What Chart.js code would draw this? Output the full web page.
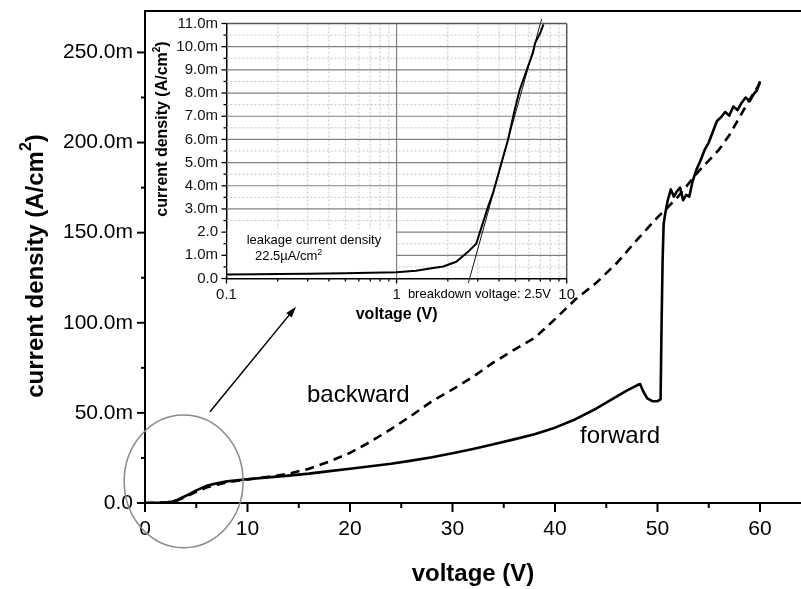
<!DOCTYPE html>
<html><head><meta charset="utf-8">
<script src="https://cdn.jsdelivr.net/npm/chart.js@4.4.0/dist/chart.umd.min.js"></script>
<style>
html,body{margin:0;padding:0;background:#fff;}
#wrap{position:relative;width:801px;height:589px;overflow:hidden;}
canvas{position:absolute;left:0;top:0;}
</style></head><body>
<div id="wrap"><canvas id="main" width="801" height="589"></canvas><canvas id="inset" width="801" height="589"></canvas></div>
<script>
// ---------- main chart data (voltage in V, current density in mA/cm²) ----------
const forwardVoltage = [0, 1, 2, 2.6, 3.2, 4, 5, 6, 7, 8, 9, 10, 12, 14, 16, 18, 20, 22, 24, 26, 28, 30, 32, 34, 36, 38, 40, 42, 44, 46, 47, 48, 48.3, 48.6, 49, 49.5, 50, 50.3, 50.4, 50.5, 50.6, 50.8, 51.0, 51.3, 51.6, 51.9, 52.2, 52.5, 52.8, 53.1, 53.4, 53.8, 54.2, 54.6, 55.0, 55.4, 55.8, 56.2, 56.6, 57.0, 57.4, 57.8, 58.2, 58.6, 59.0, 59.4, 59.7, 60.0];
const forwardCurrent = [0, 0.1, 0.3, 0.6, 1.8, 4.0, 7.0, 9.5, 11.0, 12.0, 12.6, 13.2, 14.2, 15.2, 16.3, 17.7, 19.0, 20.4, 21.8, 23.5, 25.4, 27.6, 30.0, 32.6, 35.3, 38.2, 41.8, 46.5, 52.3, 59.0, 62.3, 65.3, 66.0, 62.0, 58.0, 56.5, 56.5, 57.5, 100, 135, 155, 162, 168, 174, 170, 173, 175, 168, 171, 170, 178, 185, 190, 196, 200, 206, 212, 214, 217, 215, 220, 218, 222, 225, 223, 227, 229, 234];
const backwardVoltage = [0, 1, 2, 2.6, 3.2, 4, 5, 6, 7, 8, 9, 10, 12, 14, 16, 18, 20, 22, 24, 26, 28, 30, 32, 34, 36, 38, 40, 42, 44, 46, 48, 50, 51, 52, 53, 54, 55, 56, 57, 58, 59, 60];
const backwardCurrent = [0, 0.1, 0.3, 0.6, 1.5, 3.5, 6.2, 8.6, 10.2, 11.4, 12.3, 13.1, 14.5, 16.2, 19.0, 23.0, 27.8, 34.0, 41.0, 48.5, 56.5, 63.0, 70.0, 78.0, 85.0, 91.5, 102.0, 113.0, 122.0, 133.0, 146.0, 158.5, 164.0, 170, 177, 184, 190, 196, 204, 214, 224, 233];
const mainXTicks = [0, 10, 20, 30, 40, 50, 60];
const mainYTicks = [0, 50, 100, 150, 200, 250];

// ---------- inset data (log voltage axis) ----------
const insetVoltage = [0.1, 0.15, 0.2, 0.3, 0.5, 0.7, 1.0, 1.3, 1.64, 1.88, 2.24, 2.63, 2.94, 3.09, 3.45, 3.68, 4.12, 4.51, 4.94, 5.29, 5.92, 6.33, 6.52, 7.0, 7.3];
const insetCurrent = [0.17, 0.18, 0.19, 0.21, 0.23, 0.25, 0.27, 0.33, 0.45, 0.52, 0.72, 1.15, 1.5, 2.0, 3.1, 3.67, 4.95, 5.96, 7.26, 8.13, 9.14, 9.73, 10.16, 10.6, 10.96];
const tangentVoltage = [2.64, 7.13];
const tangentCurrent = [-0.2, 11.2];
const insetXLabels = [0.1, 1, 10];
const insetYTicks = [0, 1, 2, 3, 4, 5, 6, 7, 8, 9, 10, 11];

const FONT = '"Liberation Sans", Arial, Helvetica, sans-serif';
Chart.defaults.font.family = FONT;
Chart.defaults.color = '#000';

function pts(xs, ys) { return xs.map((v, i) => ({x: v, y: ys[i]})); }

function drawRich(ctx, cx, cy, size, bold, segs, rotate) {
  ctx.save();
  ctx.translate(cx, cy);
  if (rotate) ctx.rotate(-Math.PI / 2);
  const base = (bold ? 'bold ' : '') + size + 'px ' + FONT;
  const sup = (bold ? 'bold ' : '') + Math.round(size * 0.65) + 'px ' + FONT;
  let total = 0;
  segs.forEach(s => { ctx.font = s.sup ? sup : base; s.w = ctx.measureText(s.t).width; total += s.w; });
  let xx = -total / 2;
  ctx.textBaseline = 'middle'; ctx.textAlign = 'left'; ctx.fillStyle = '#000';
  segs.forEach(s => { ctx.font = s.sup ? sup : base; ctx.fillText(s.t, xx, s.sup ? -size * 0.38 : 0); xx += s.w; });
  ctx.restore();
}
function drawRichLeft(ctx, x, y, size, segs) {
  ctx.save();
  const base = size + 'px ' + FONT, sup = Math.round(size * 0.7) + 'px ' + FONT;
  ctx.textBaseline = 'alphabetic'; ctx.textAlign = 'left'; ctx.fillStyle = '#000';
  let xx = x;
  segs.forEach(s => { ctx.font = s.sup ? sup : base; ctx.fillText(s.t, xx, s.sup ? y - size * 0.45 : y); xx += ctx.measureText(s.t).width; });
  ctx.restore();
}
function seg(ctx, x1, y1, x2, y2) { ctx.beginPath(); ctx.moveTo(x1, y1); ctx.lineTo(x2, y2); ctx.stroke(); }

// ---------- main chart decorations ----------
const mainDecor = {
  id: 'mainDecor',
  afterDraw(chart) {
    const {ctx, chartArea: a, scales: {x, y}} = chart;
    ctx.save();
    ctx.strokeStyle = '#000'; ctx.lineWidth = 2;
    seg(ctx, a.left - 1, a.top, a.right, a.top);
    // x ticks (major + minor)
    mainXTicks.forEach((v, i) => {
      const px = x.getPixelForValue(v);
      seg(ctx, px, a.bottom, px, a.bottom + 9);
      if (i < mainXTicks.length - 1) {
        const mv = (v + mainXTicks[i + 1]) / 2, mp = x.getPixelForValue(mv);
        seg(ctx, mp, a.bottom, mp, a.bottom + 5);
      }
    });
    mainYTicks.forEach((v, i) => {
      const py = y.getPixelForValue(v);
      seg(ctx, a.left - 8, py, a.left, py);
      if (i < mainYTicks.length - 1) {
        const mp = y.getPixelForValue((v + mainYTicks[i + 1]) / 2);
        seg(ctx, a.left - 4, mp, a.left, mp);
      }
    });
    // circle marking the low-voltage region
    const cx = x.getPixelForValue(3.77), cy = y.getPixelForValue(12.0);
    const rx = x.getPixelForValue(5.8) - x.getPixelForValue(0);
    const ry = y.getPixelForValue(0) - y.getPixelForValue(36.8);
    ctx.strokeStyle = '#8a8a8a'; ctx.lineWidth = 1.5;
    ctx.beginPath(); ctx.ellipse(cx, cy, rx, ry, 0, 0, Math.PI * 2); ctx.stroke();
    // arrow to the inset
    const x1 = x.getPixelForValue(6.34), y1 = y.getPixelForValue(50.6);
    const x2 = x.getPixelForValue(14.73), y2 = y.getPixelForValue(108.9);
    ctx.strokeStyle = '#000'; ctx.fillStyle = '#000'; ctx.lineWidth = 1.5;
    const ang = Math.atan2(y2 - y1, x2 - x1);
    seg(ctx, x1, y1, x2 - 6 * Math.cos(ang), y2 - 6 * Math.sin(ang));
    ctx.beginPath();
    ctx.moveTo(x2, y2);
    ctx.lineTo(x2 - 11 * Math.cos(ang) + 3.5 * Math.sin(ang), y2 - 11 * Math.sin(ang) - 3.5 * Math.cos(ang));
    ctx.lineTo(x2 - 11 * Math.cos(ang) - 3.5 * Math.sin(ang), y2 - 11 * Math.sin(ang) + 3.5 * Math.cos(ang));
    ctx.closePath(); ctx.fill();
    // curve labels
    ctx.font = '24px ' + FONT; ctx.textAlign = 'left'; ctx.textBaseline = 'alphabetic';
    ctx.fillText('backward', x.getPixelForValue(15.8), y.getPixelForValue(55.9));
    ctx.fillText('forward', x.getPixelForValue(42.44), y.getPixelForValue(33.3));
    ctx.restore();
    // y axis title with superscript
    drawRich(ctx, 36, (a.top + a.bottom) / 2 + 9, 24, true,
      [{t: 'current density (A/cm'}, {t: '2', sup: true}, {t: ')'}], true);
  }
};

new Chart(document.getElementById('main'), {
  type: 'line',
  data: {
    datasets: [
      {label: 'forward', data: pts(forwardVoltage, forwardCurrent), borderColor: '#000', borderWidth: 2.6, pointRadius: 0, fill: false, tension: 0, borderJoinStyle: 'round'},
      {label: 'backward', data: pts(backwardVoltage, backwardCurrent), borderColor: '#000', borderWidth: 2.6, borderDash: [9, 6], pointRadius: 0, fill: false, tension: 0}
    ]
  },
  options: {
    responsive: false, animation: false, devicePixelRatio: 1, events: [],
    layout: {padding: {top: 11, right: 0, left: 0, bottom: 0}},
    plugins: {legend: {display: false}, tooltip: {enabled: false}},
    scales: {
      x: {
        type: 'linear', min: 0, max: 64,
        grid: {display: false, drawTicks: false},
        border: {display: true, color: '#000', width: 2},
        ticks: {stepSize: 10, includeBounds: false, autoSkip: false, maxRotation: 0, padding: 14,
          font: {size: 21}, color: '#000', callback: v => String(v)},
        title: {display: true, text: 'voltage (V)', font: {size: 24, weight: 'bold'}, color: '#000', padding: {top: 3, bottom: 0}},
        afterFit: s => { s.height = 86; s.paddingLeft = 0; s.paddingRight = 0; }
      },
      y: {
        min: 0, max: 273,
        grid: {display: false, drawTicks: false},
        border: {display: true, color: '#000', width: 2},
        ticks: {stepSize: 50, includeBounds: false, padding: 12, font: {size: 21}, color: '#000',
          callback: v => v === 0 ? '0.0' : v.toFixed(1) + 'm'},
        afterFit: s => { s.width = 145; s.paddingTop = 0; s.paddingBottom = 0; }
      }
    }
  },
  plugins: [mainDecor]
});

// ---------- inset decorations ----------
const insetDecor = {
  id: 'insetDecor',
  beforeDatasetsDraw(chart) {
    const {ctx, chartArea: a, scales: {x, y}} = chart;
    ctx.save();
    // minor dotted grid
    ctx.strokeStyle = '#c4c4c4'; ctx.lineWidth = 1; ctx.setLineDash([2, 2]);
    [0.1, 1].forEach(d => { for (let k = 2; k <= 9; k++) { const px = x.getPixelForValue(k * d); seg(ctx, px, a.top, px, a.bottom); } });
    insetYTicks.slice(0, -1).forEach(v => { const py = y.getPixelForValue(v + 0.5); seg(ctx, a.left, py, a.right, py); });
    ctx.setLineDash([]);
    // major grid
    ctx.strokeStyle = '#808080'; ctx.lineWidth = 1.2;
    insetYTicks.slice(1, -1).forEach(v => { const py = y.getPixelForValue(v); seg(ctx, a.left, py, a.right, py); });
    const p1 = x.getPixelForValue(1); seg(ctx, p1, a.top, p1, a.bottom);
    // white box behind the leakage note
    ctx.fillStyle = '#fff';
    const bx1 = x.getPixelForValue(0.1) + 1.2, bx2 = x.getPixelForValue(1) - 0.8;
    const by1 = y.getPixelForValue(2.15), by2 = y.getPixelForValue(0) - 1.2;
    ctx.fillRect(bx1, by1, bx2 - bx1, by2 - by1);
    ctx.restore();
  },
  afterDatasetsDraw(chart) {
    const {ctx, chartArea: a, scales: {x, y}} = chart;
    ctx.save();
    ctx.strokeStyle = '#555'; ctx.lineWidth = 1.5;
    seg(ctx, a.left, a.top, a.right, a.top);
    seg(ctx, a.right, a.top, a.right, a.bottom);
    ctx.strokeStyle = '#000'; ctx.lineWidth = 1.3;
    insetYTicks.forEach((v, i) => {
      const py = y.getPixelForValue(v);
      seg(ctx, a.left - 5, py, a.left, py);
      if (i < insetYTicks.length - 1) { const mp = y.getPixelForValue(v + 0.5); seg(ctx, a.left - 3, mp, a.left, mp); }
    });
    insetXLabels.forEach(v => { const px = x.getPixelForValue(v); seg(ctx, px, a.bottom, px, a.bottom + 5); });
    [0.1, 1].forEach(d => { for (let k = 2; k <= 9; k++) { const px = x.getPixelForValue(k * d); seg(ctx, px, a.bottom, px, a.bottom + 3); } });
    ctx.restore();
  },
  afterDraw(chart) {
    const {ctx, scales: {x, y}} = chart;
    drawRichLeft(ctx, x.getPixelForValue(0.1315), y.getPixelForValue(1.49), 13, [{t: 'leakage current density'}]);
    drawRichLeft(ctx, x.getPixelForValue(0.147), y.getPixelForValue(0.78), 13, [{t: '22.5\u00b5A/cm'}, {t: '2', sup: true}]);
    ctx.save();
    ctx.font = '13px ' + FONT; ctx.fillStyle = '#000'; ctx.textAlign = 'left'; ctx.textBaseline = 'middle';
    ctx.fillText('breakdown voltage: 2.5V', x.getPixelForValue(1.165), y.getPixelForValue(-0.68));
    ctx.restore();
    drawRich(ctx, 163, 129, 16, true, [{t: 'current density (A/cm'}, {t: '2', sup: true}, {t: ')'}], true);
  }
};

new Chart(document.getElementById('inset'), {
  type: 'line',
  data: {
    datasets: [
      {label: 'I-V', data: pts(insetVoltage, insetCurrent), borderColor: '#000', borderWidth: 2, pointRadius: 0, tension: 0, fill: false},
      {label: 'tangent', data: pts(tangentVoltage, tangentCurrent), borderColor: '#111', borderWidth: 1, pointRadius: 0, tension: 0, fill: false, clip: false}
    ]
  },
  options: {
    responsive: false, animation: false, devicePixelRatio: 1, events: [],
    layout: {padding: {top: 23.5, right: 234.3, left: 140, bottom: 264.5}},
    plugins: {legend: {display: false}, tooltip: {enabled: false}},
    scales: {
      x: {
        type: 'logarithmic', min: 0.1, max: 10,
        grid: {display: false, drawTicks: false},
        border: {display: true, color: '#000', width: 1.5},
        ticks: {autoSkip: false, maxRotation: 0, padding: 7.5, font: {size: 15}, color: '#111',
          callback: v => {
            const hit = insetXLabels.find(t => Math.abs(Math.log10(v) - Math.log10(t)) < 1e-6);
            return hit !== undefined ? String(hit) : '';
          }},
        title: {display: true, text: 'voltage (V)', font: {size: 16, weight: 'bold'}, color: '#000', padding: {top: 3, bottom: 0}},
        afterFit: s => { s.height = 46; s.paddingLeft = 0; s.paddingRight = 0; }
      },
      y: {
        min: 0, max: 11,
        grid: {display: false, drawTicks: false},
        border: {display: true, color: '#000', width: 1.5},
        ticks: {stepSize: 1, maxTicksLimit: 20, includeBounds: false, padding: 8.5, font: {size: 15}, color: '#111',
          callback: v => (v === 0 || v === 2) ? v.toFixed(1) : v.toFixed(1) + 'm'},
        afterFit: s => { s.width = 86.5; s.paddingTop = 0; s.paddingBottom = 0; }
      }
    }
  },
  plugins: [insetDecor]
});
</script>
</body></html>
